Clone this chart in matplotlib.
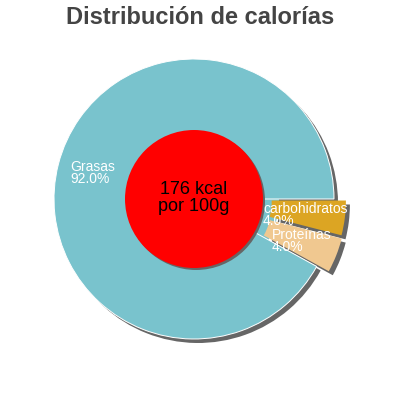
import matplotlib
matplotlib.use("Agg")
import matplotlib.pyplot as plt
from matplotlib.patches import Circle

plt.rcParams['font.family'] = ['Liberation Sans', 'DejaVu Sans']

labels = ["Grasas", "Proteínas", "carbohidratos"]
values = [92.0, 4.0, 4.0]
colors = ["#79C3CD", "#F0C890", "#DCA523"]
explode = [0.0, 13.0, 12.0]
title = "Distribución de calorías"
center_text = "176 kcal\npor 100g"

fig = plt.figure(figsize=(4, 4), dpi=100)
ax = fig.add_axes([0, 0, 1, 1])

cx, cy, R = 194, 201, 140
# shadow
ax.pie(values, colors=["#666666"] * 3, explode=explode, startangle=0,
       counterclock=True, radius=R, center=(cx + 4, cy - 4),
       wedgeprops=dict(width=R * 0.5, linewidth=0, zorder=1), frame=True)
ax.add_patch(Circle((cx, cy), 85, facecolor=colors[0], edgecolor='none', zorder=1.5))
wedges, _ = ax.pie(values, colors=colors, explode=explode, startangle=0,
                   counterclock=True, radius=R, center=(cx, cy),
                   wedgeprops=dict(width=R * 0.53, linewidth=0, zorder=2), frame=True)
wedges[0].set_edgecolor("white")
wedges[0].set_linewidth(0.7)
ax.set_xlim(0, 400)
ax.set_ylim(0, 400)
ax.set_aspect('equal')
ax.axis('off')

ax.add_patch(Circle((cx + 2, cy - 2), 69, facecolor="#666666", edgecolor='none', zorder=4))
ax.add_patch(Circle((cx, cy), 69, facecolor="#FF0000", edgecolor='none', zorder=5))
ax.text(cx, cy + 1, center_text, ha='center', va='center', fontsize=13,
        color='black', zorder=6, linespacing=1.0)

lab_pos = [(70, 240), (272, 172), (263, 198)]
for (x, y), lab, v in zip(lab_pos, labels, values):
    ax.text(x, y, f"{lab}\n{v:.1f}%", ha='left', va='top', fontsize=10,
            color='white', zorder=7, linespacing=0.85)

fig.text(0.5, 0.955, title, ha='center', va='center', fontsize=17,
         fontweight='bold', color='#444444')

fig.savefig("out.png", dpi=100)
